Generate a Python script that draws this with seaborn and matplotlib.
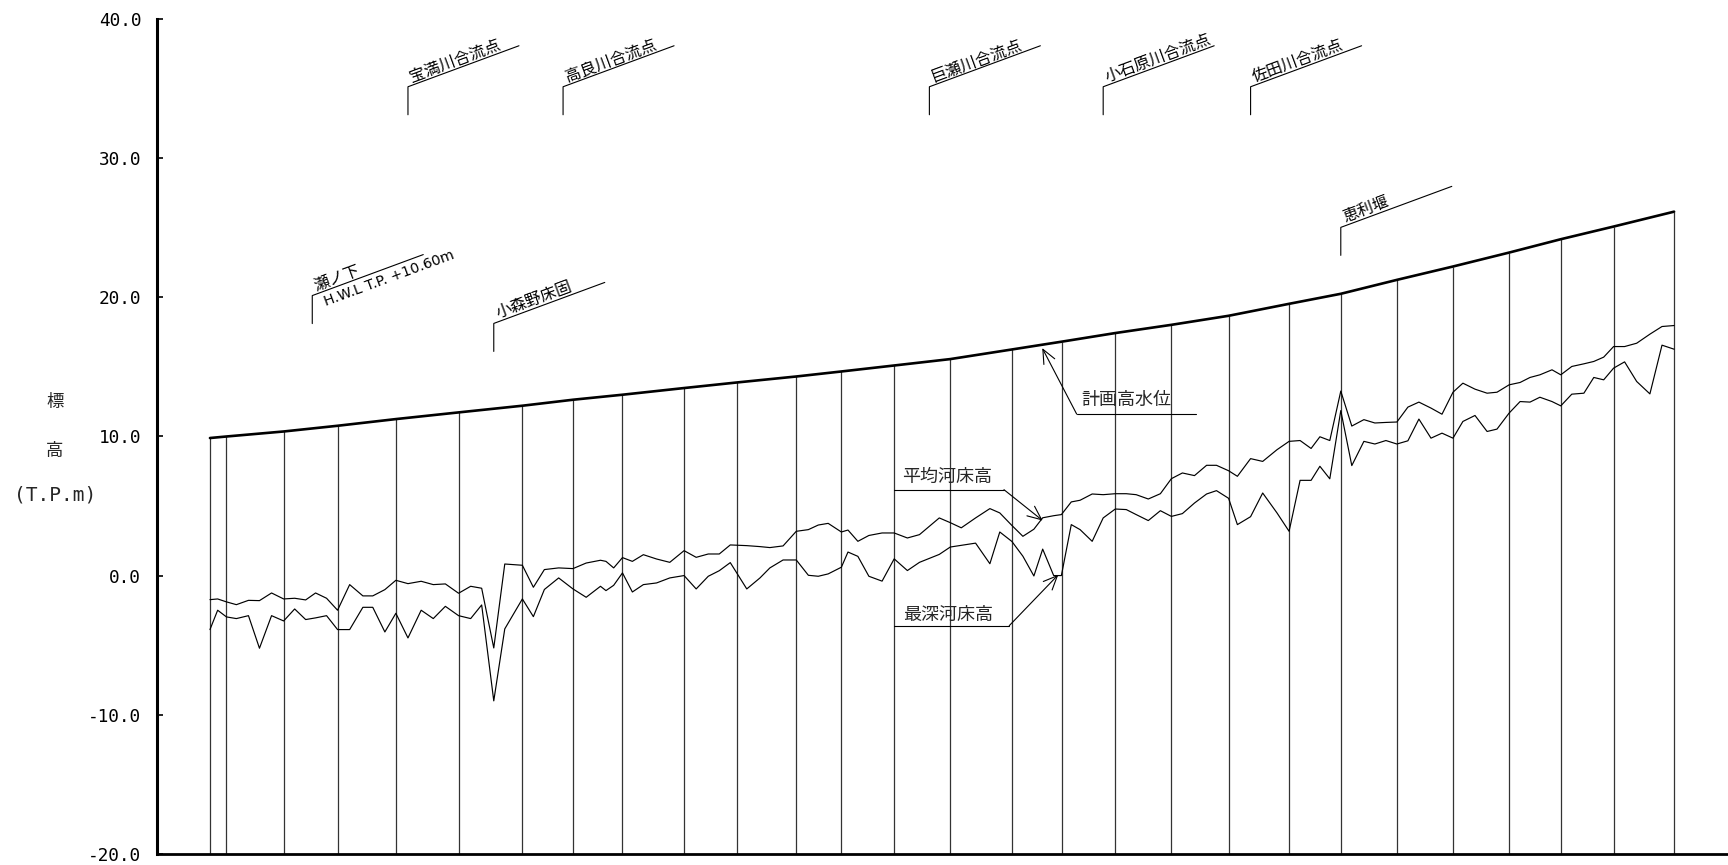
import matplotlib
matplotlib.use('Agg')
import numpy as np
import pandas as pd
import matplotlib.pyplot as plt
import seaborn as sns

# 距離標 (km) と河床高 (T.P.m)
dist_km = [0.00, 0.07, 0.15, 0.24, 0.35, 0.45, 0.56, 0.67, 0.77, 0.87,
           0.96, 1.06, 1.16, 1.27, 1.39, 1.48, 1.59, 1.69, 1.80, 1.92,
           2.03, 2.14, 2.26, 2.37, 2.47, 2.58, 2.68, 2.84, 2.94, 3.04,
           3.17, 3.30, 3.42, 3.55, 3.60, 3.67, 3.75, 3.84, 3.94, 4.06,
           4.18, 4.31, 4.42, 4.53, 4.63, 4.73, 4.88, 5.00, 5.09, 5.21,
           5.33, 5.44, 5.53, 5.62, 5.74, 5.80, 5.89, 5.99, 6.11, 6.22,
           6.34, 6.45, 6.63, 6.73, 6.83, 6.96, 7.09, 7.18, 7.29, 7.39,
           7.49, 7.57, 7.67, 7.74, 7.83, 7.91, 8.02, 8.12, 8.23, 8.33,
           8.42, 8.53, 8.64, 8.74, 8.84, 8.95, 9.06, 9.15, 9.26, 9.34,
           9.46, 9.57, 9.70, 9.81, 9.91, 10.01, 10.09, 10.18, 10.28, 10.38,
           10.49, 10.59, 10.69, 10.79, 10.89, 10.99, 11.10, 11.20, 11.30, 11.39,
           11.50, 11.61, 11.70, 11.81, 11.91, 12.00, 12.09, 12.20, 12.28, 12.38,
           12.49, 12.58, 12.67, 12.76, 12.86, 12.97, 13.09, 13.20, 13.31]

mean_bed = [-1.73, -1.68, -1.89, -2.09, -1.78, -1.80, -1.25, -1.68, -1.63, -1.75,
            -1.25, -1.63, -2.49, -0.65, -1.46, -1.46, -1.01, -0.34, -0.58, -0.41,
            -0.65, -0.60, -1.27, -0.77, -0.91, -5.20, 0.83, 0.74, -0.84, 0.43,
            0.55, 0.50, 0.90, 1.10, 1.02, 0.55, 1.29, 1.02, 1.50, 1.19,
            0.95, 1.79, 1.31, 1.55, 1.55, 2.20, 2.15, 2.08, 2.01, 2.13,
            3.18, 3.30, 3.63, 3.75, 3.13, 3.27, 2.46, 2.88, 3.06, 3.06,
            2.70, 2.94, 4.14, 3.80, 3.43, 4.14, 4.81, 4.50, 3.60, 2.82,
            3.33, 4.15, 4.30, 4.38, 5.29, 5.41, 5.86, 5.81, 5.88, 5.88,
            5.81, 5.50, 5.88, 6.96, 7.37, 7.18, 7.92, 7.92, 7.53, 7.13,
            8.40, 8.20, 9.04, 9.64, 9.70, 9.13, 9.97, 9.70, 13.25, 10.74,
            11.20, 10.96, 11.00, 11.03, 12.10, 12.46, 12.03, 11.59, 13.17, 13.82,
            13.39, 13.10, 13.17, 13.70, 13.87, 14.23, 14.42, 14.78, 14.42, 15.02,
            15.21, 15.38, 15.69, 16.45, 16.45, 16.69, 17.34, 17.89, 17.96]

deep_bed = [-3.88, -2.49, -2.97, -3.09, -2.88, -5.22, -2.88, -3.26, -2.40, -3.16,
            -3.04, -2.88, -3.88, -3.88, -2.28, -2.28, -4.05, -2.71, -4.48, -2.49,
            -3.09, -2.21, -2.88, -3.09, -2.11, -9.00, -3.83, -1.68, -2.95, -1.00,
            -0.17, -0.96, -1.56, -0.77, -1.08, -0.70, 0.19, -1.18, -0.65, -0.53,
            -0.17, 0.00, -0.96, -0.05, 0.35, 0.93, -0.96, -0.17, 0.55, 1.12,
            1.12, 0.02, -0.05, 0.12, 0.60, 1.69, 1.38, -0.05, -0.40, 1.20,
            0.36, 0.95, 1.52, 2.05, 2.17, 2.33, 0.85, 3.13, 2.45, 1.39,
            -0.03, 1.90, 0.00, 0.00, 3.66, 3.30, 2.46, 4.14, 4.78, 4.74,
            4.38, 3.95, 4.66, 4.25, 4.45, 5.21, 5.86, 6.10, 5.55, 3.66,
            4.23, 5.93, 4.50, 3.18, 6.84, 6.84, 7.85, 6.95, 11.85, 7.90,
            9.64, 9.45, 9.70, 9.45, 9.68, 11.24, 9.87, 10.23, 9.87, 11.07,
            11.50, 10.35, 10.52, 11.67, 12.50, 12.46, 12.81, 12.50, 12.19, 13.03,
            13.10, 14.23, 14.06, 14.90, 15.35, 13.94, 13.05, 16.55, 16.26]

# 横断測線の位置と計画高水位
section_km = [0.00, 0.15, 0.67, 1.16, 1.69, 2.26, 2.84, 3.30, 3.75, 4.31,
              4.79, 5.33, 5.74, 6.22, 6.73, 7.29, 7.75, 8.23, 8.74, 9.26,
              9.81, 10.28, 10.79, 11.30, 11.81, 12.28, 12.76, 13.31]
hwl = [9.88, 9.99, 10.35, 10.76, 11.24, 11.72, 12.20, 12.63, 12.99, 13.47,
       13.87, 14.30, 14.66, 15.09, 15.55, 16.24, 16.81, 17.42, 18.01, 18.66,
       19.52, 20.24, 21.24, 22.20, 23.20, 24.16, 25.07, 26.14]

# 支川合流点・横断工作物
station_names = ['瀬ノ下', '宝満川合流点', '小森野床固', '高良川合流点',
                 '巨瀬川合流点', '小石原川合流点', '佐田川合流点', '恵利堰']
station_km = [0.93, 1.80, 2.58, 3.21, 6.54, 8.12, 9.46, 10.28]
station_base = [18.1, 33.1, 16.1, 33.1, 33.1, 33.1, 33.1, 23.0]
hwl_note = 'H.W.L T.P. +10.60m'

yticks = [-20, -10, 0, 10, 20, 30, 40]

sns.set_theme(style='ticks')
plt.rcParams['font.family'] = ['Noto Sans CJK JP', 'DejaVu Sans']

W, H = 1728, 865
fig = plt.figure(figsize=(W / 100, H / 100), dpi=100)
fig.patch.set_facecolor('white')
ax = fig.add_axes([156.5 / W, (H - 854) / H, 1 - 156.5 / W, (854 - 18.7) / H])
ax.set_facecolor('white')

ax.set_xlim(-0.486, 13.8)
ax.set_ylim(-20, 40)

# 横断測線
ax.vlines(section_km, -20, hwl, colors='#333333', lw=0.9)

# 計画高水位と河床高
sns.lineplot(x=section_km, y=hwl, color='black', lw=1.9, ax=ax)
sns.lineplot(x=dist_km, y=mean_bed, color='black', lw=0.85, ax=ax)
sns.lineplot(x=dist_km, y=deep_bed, color='black', lw=0.85, ax=ax)

ax.set_xticks([])
ax.set_yticks(yticks)
ax.set_yticklabels([f'{v:.1f}' for v in yticks], family='DejaVu Sans Mono', fontsize=12.8)
ax.tick_params(axis='y', direction='in', length=4.5, width=1.2, pad=11, colors='black')
ax.set_xlabel('')
ax.set_ylabel('')
for side in ['top', 'right']:
    ax.spines[side].set_visible(False)
ax.spines['left'].set_linewidth(2.2)
ax.spines['bottom'].set_linewidth(2.0)
ax.spines['left'].set_color('black')
ax.spines['bottom'].set_color('black')


def shift(x, y, dxp, dyp):
    px, py = ax.transData.transform((x, y))
    return ax.transData.inverted().transform((px + dxp, py + dyp))


ang = np.degrees(np.arctan2(41, 111))
for name, km, base in zip(station_names, station_km, station_base):
    x1, y1 = shift(km, base, 0, 28)
    x2, y2 = shift(x1, y1, 111, 41)
    ax.plot([km, x1, x2], [base, y1, y2], color='black', lw=0.8)
    tx, ty = shift(x1, y1, 4.0, 5.0)
    ax.text(tx, ty, name, rotation=ang, rotation_mode='anchor',
            ha='left', va='baseline', fontsize=11.5, color='black')
    if name == '瀬ノ下':
        nx, ny = shift(x1, y1, 10.4, 0.0)
        ax.text(nx, ny, hwl_note, rotation=ang, rotation_mode='anchor',
                ha='left', va='top', fontsize=10.3, family='DejaVu Sans', color='black')

# 凡例代わりの引出線
arrow = dict(arrowstyle='->,head_length=0.5,head_width=0.22', color='black', lw=0.8,
             shrinkA=0, shrinkB=0, mutation_scale=20)

ax.plot([6.221, 7.218], [6.17, 6.17], color='black', lw=0.8)
ax.annotate('', xy=(7.57, 3.95), xytext=(7.218, 6.17), arrowprops=arrow)
ax.text(6.29, 6.74, '平均河床高', fontsize=13, ha='left', va='baseline')

ax.plot([6.221, 7.266], [-3.60, -3.60], color='black', lw=0.8)
ax.annotate('', xy=(7.712, 0.06), xytext=(7.266, -3.60), arrowprops=arrow)
ax.text(6.30, -3.17, '最深河床高', fontsize=13, ha='left', va='baseline')

ax.plot([7.879, 8.964], [11.60, 11.60], color='black', lw=0.8)
ax.annotate('', xy=(7.566, 16.34), xytext=(7.879, 11.60), arrowprops=arrow)
ax.text(7.924, 12.27, '計画高水位', fontsize=13, ha='left', va='baseline')

# 縦軸ラベル
fig.text(55 / W, 1 - 402 / H, '標', fontsize=12.5, ha='center', va='center')
fig.text(55 / W, 1 - 451 / H, '高', fontsize=12.5, ha='center', va='center')
fig.text(55 / W, 1 - 495 / H, '(T.P.m)', fontsize=14, family='DejaVu Sans Mono',
         ha='center', va='center')

fig.savefig('out.png', dpi=100, facecolor='white')
